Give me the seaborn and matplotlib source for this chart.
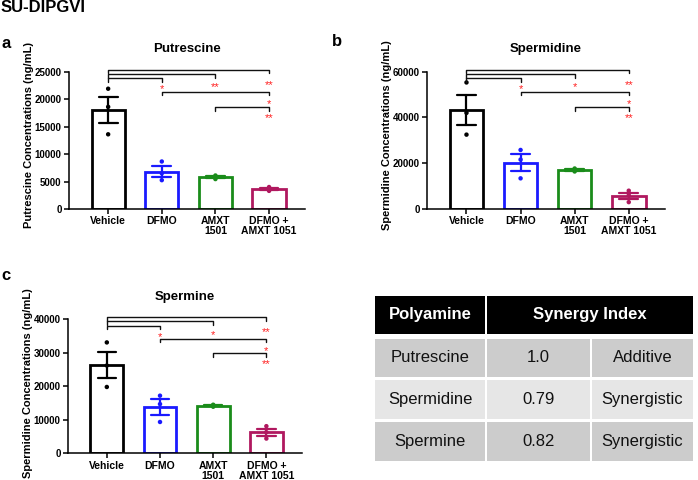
import matplotlib
matplotlib.use("Agg")
import matplotlib.pyplot as plt
from matplotlib.patches import Rectangle
import seaborn as sns
import pandas as pd

sns.set_theme(style="ticks")
plt.rcParams["font.family"] = ["Liberation Sans", "DejaVu Sans"]
plt.rcParams["text.color"] = "black"
plt.rcParams["axes.labelcolor"] = "black"
plt.rcParams["xtick.color"] = "black"
plt.rcParams["ytick.color"] = "black"

# ---------------- data ----------------
groups = ["Vehicle", "DFMO", "AMXT 1501", "DFMO + AMXT 1051"]
group_labels = ["Vehicle", "DFMO", "AMXT\n1501", "DFMO +\nAMXT 1051"]
colors = ["#000000", "#1a1aff", "#1a8c1a", "#b0185f"]

putrescine_vehicle = [21900, 18600, 13600]
putrescine_dfmo = [8650, 6500, 5250]
putrescine_amxt = [6100, 5700, 5450]
putrescine_combo = [4000, 3650, 3300]

spermidine_vehicle = [55300, 42000, 32500]
spermidine_dfmo = [25800, 21600, 13400]
spermidine_amxt = [17700, 17000, 16400]
spermidine_combo = [8000, 6000, 3000]

spermine_vehicle = [33100, 26200, 19800]
spermine_dfmo = [17200, 14700, 9350]
spermine_amxt = [14500, 14300, 13900]
spermine_combo = [8100, 6300, 4400]

putrescine_ticks = [0, 5000, 10000, 15000, 20000, 25000]
spermidine_ticks = [0, 20000, 40000, 60000]
spermine_ticks = [0, 10000, 20000, 30000, 40000]

# significance comparisons: (group i, group j, stars)
comparisons_a = [(0, 3, "**"), (0, 2, "**"), (0, 1, "*"), (1, 3, "*"), (2, 3, "**")]
comparisons_b = [(0, 3, "**"), (0, 2, "*"), (0, 1, "*"), (1, 3, "*"), (2, 3, "**")]
comparisons_c = [(0, 3, "**"), (0, 2, "*"), (0, 1, "*"), (1, 3, "*"), (2, 3, "**")]

table_header = ["Polyamine", "Synergy Index"]
table_polyamines = ["Putrescine", "Spermidine", "Spermine"]
table_index = ["1.0", "0.79", "0.82"]
table_effect = ["Additive", "Synergistic", "Synergistic"]

# ---------------- figure ----------------
W, H = 698, 480
fig = plt.figure(figsize=(W / 100, H / 100), dpi=100)


def px_axes(left, top, right, bottom):
    return fig.add_axes([left / W, 1 - bottom / H, (right - left) / W, (bottom - top) / H])


# bracket layout in axes-fraction: (line level, star level)
bracket_layout = [(1.015, 0.932), (0.985, 0.915), (0.953, 0.90), (0.855, 0.795), (0.745, 0.693)]


def panel(ax, series, ticks, title, ylabel, comparisons, label_y):
    rows = []
    for g, vals in zip(groups, series):
        for v in vals:
            rows.append({"group": g, "value": v})
    df = pd.DataFrame(rows)
    sns.barplot(data=df, x="group", y="value", hue="group", palette=colors,
                order=groups, hue_order=groups, fill=False, errorbar="se",
                capsize=0.35, width=0.62, linewidth=2.0,
                err_kws={"linewidth": 1.6}, legend=False, ax=ax)
    sns.stripplot(data=df, x="group", y="value", hue="group", palette=colors,
                  order=groups, hue_order=groups, jitter=False, size=3.2,
                  legend=False, ax=ax, zorder=5)
    ax.set_xlim(-0.73, 3.67)
    ax.set_ylim(0, ticks[-1])
    ax.set_yticks(ticks)
    ax.set_yticklabels([str(t) for t in ticks], fontsize=7.0, fontweight="bold")
    ax.set_xticks(range(len(groups)))
    ax.set_xticklabels(group_labels, fontsize=7.5, fontweight="bold", linespacing=1.0)
    ax.set_xlabel("")
    ax.set_ylabel(ylabel, fontsize=8.0, fontweight="bold")
    ax.yaxis.set_label_coords(-0.148, label_y)
    for s in ["top", "right"]:
        ax.spines[s].set_visible(False)
    for s in ["left", "bottom"]:
        ax.spines[s].set_linewidth(1.1)
        ax.spines[s].set_color("black")
    ax.tick_params(axis="both", length=3.5, width=1.1, color="black", pad=1.8)
    ax.text(0.5, 1.165, title, transform=ax.transAxes, ha="center", va="center",
            fontsize=9.5, fontweight="bold")
    trans = ax.get_xaxis_transform()
    tick = 0.028
    for (i, j, stars), (lvl, sy) in zip(comparisons, bracket_layout):
        ax.plot([i, i, j, j], [lvl - tick, lvl, lvl, lvl - tick], color="#111111",
                lw=1.0, transform=trans, clip_on=False, zorder=6)
        ax.annotate(stars, xy=(j, sy), xycoords=trans, xytext=(0, -5),
                    textcoords="offset points", ha="center", va="baseline",
                    color="#ff2020", fontsize=8, annotation_clip=False)


ax_a = px_axes(69, 71.7, 305, 209)
panel(ax_a, [putrescine_vehicle, putrescine_dfmo, putrescine_amxt, putrescine_combo],
      putrescine_ticks, "Putrescine", "Putrescine Concentrations (ng/mL)", comparisons_a, 0.54)

ax_b = px_axes(427, 71.7, 665, 209)
panel(ax_b, [spermidine_vehicle, spermidine_dfmo, spermidine_amxt, spermidine_combo],
      spermidine_ticks, "Spermidine", "Spermidine Concentrations (ng/mL)", comparisons_b, 0.54)

ax_c = px_axes(68, 319.3, 302, 453.3)
panel(ax_c, [spermine_vehicle, spermine_dfmo, spermine_amxt, spermine_combo],
      spermine_ticks, "Spermine", "Spermidine Concentrations (ng/mL)", comparisons_c, 0.525)

# labels
fig.text(1 / W, 1 - 8 / H, "SU-DIPGVI", fontsize=12, fontweight="bold", va="center", ha="left")
fig.text(2 / W, 1 - 44 / H, "a", fontsize=12, fontweight="bold", va="center", ha="left")
fig.text(332 / W, 1 - 41 / H, "b", fontsize=12, fontweight="bold", va="center", ha="left")
fig.text(1 / W, 1 - 276 / H, "c", fontsize=12, fontweight="bold", va="center", ha="left")

# ---------------- table ----------------
tx0, ty0, tx1, ty1 = 375, 296, 693, 461
tax = px_axes(tx0, ty0, tx1, ty1)
tw, th = tx1 - tx0, ty1 - ty0
tax.set_xlim(0, tw)
tax.set_ylim(th, 0)
tax.axis("off")
col_w = [110, 103, 101]
gap_c = 2
row_h = [38, 38, 39, 39]
gap_r = [5, 3, 3]
row_fill = ["#cccccc", "#e6e6e6", "#cccccc"]
col_x = [0, col_w[0] + gap_c, col_w[0] + col_w[1] + 2 * gap_c]
row_y = [0]
for k in range(3):
    row_y.append(row_y[-1] + row_h[k] + gap_r[k])

# header
tax.add_patch(Rectangle((col_x[0], row_y[0]), col_w[0], row_h[0], color="black", lw=0))
tax.add_patch(Rectangle((col_x[1], row_y[0]), tw - col_x[1], row_h[0], color="black", lw=0))
tax.text(col_x[0] + col_w[0] / 2, row_y[0] + row_h[0] / 2, table_header[0], color="white",
         fontsize=12, fontweight="bold", ha="center", va="center")
tax.text((col_x[1] + tw) / 2, row_y[0] + row_h[0] / 2, table_header[1], color="white",
         fontsize=12, fontweight="bold", ha="center", va="center")
for r in range(3):
    y = row_y[r + 1]
    h = row_h[r + 1]
    texts = [table_polyamines[r], table_index[r], table_effect[r]]
    for c in range(3):
        w = col_w[c] if c < 2 else tw - col_x[2]
        tax.add_patch(Rectangle((col_x[c], y), w, h, color=row_fill[r], lw=0))
        tax.text(col_x[c] + w / 2, y + h / 2, texts[c], color="#111111", fontsize=12,
                 ha="center", va="center")

fig.savefig("out.png", dpi=100)
